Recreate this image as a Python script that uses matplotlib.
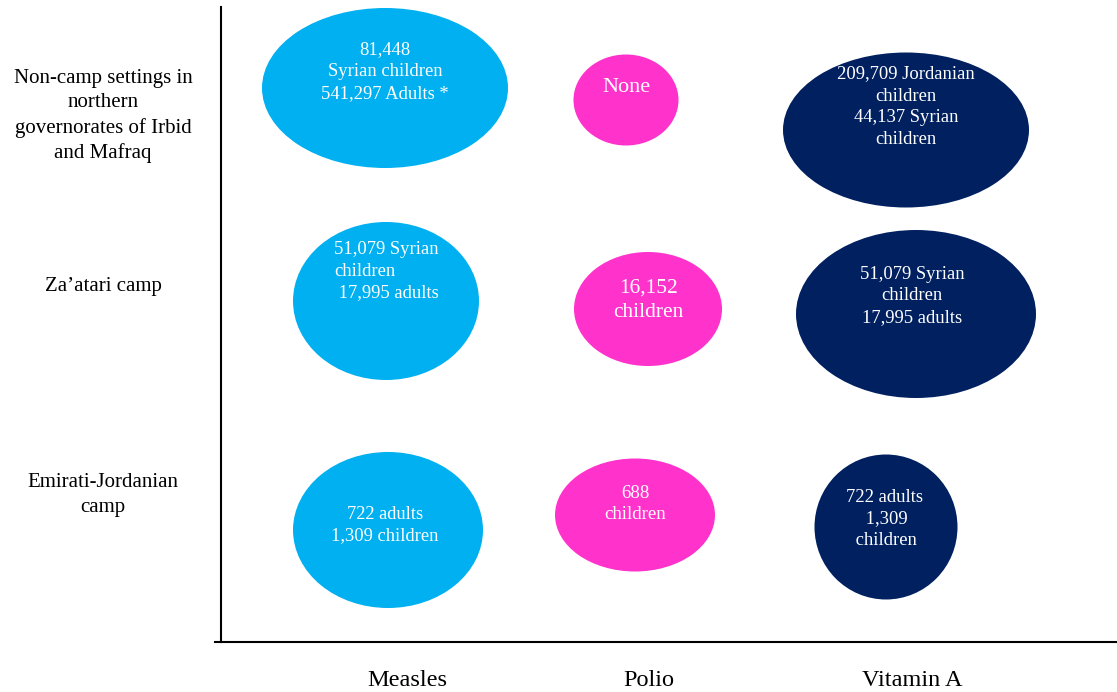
import matplotlib.pyplot as plt
from matplotlib.patches import Ellipse

plt.rcParams["font.family"] = ["Liberation Serif", "DejaVu Serif"]

# categories
vaccines = ["Measles", "Polio", "Vitamin A"]
settings = [
    "Non-camp settings in\nnorthern\ngovernorates of Irbid\nand Mafraq",
    "Za\u2019atari camp",
    "Emirati-Jordanian\ncamp",
]

# bubble texts, row by row (setting) and column by column (vaccine)
bubble_texts = [
    ["81,448\nSyrian children\n541,297 Adults *", "None",
     "209,709 Jordanian\nchildren\n44,137 Syrian\nchildren"],
    ["51,079 Syrian\nchildren\n 17,995 adults", "16,152\nchildren",
     "51,079 Syrian\nchildren\n17,995 adults"],
    ["722 adults\n1,309 children", "688\nchildren",
     "722 adults\n 1,309\n children"],
]

colors = ["#00B0F0", "#FF33CC", "#002060"]

# layout (axis units roughly equal to pixels)
centers = [
    [(164, 554), (405, 542), (685, 512)],
    [(165, 341), (427, 333), (695, 328)],
    [(167, 112), (414, 127), (665, 115)],
]
sizes = [
    [(246, 160), (105, 91), (246, 155)],
    [(186, 158), (148, 114), (240, 168)],
    [(190, 156), (160, 113), (143, 145)],
]
text_pos = [
    [(164, 570), (405, 555), (685, 535)],
    [(113, 371), (427, 342), (691, 346)],
    [(164, 117), (414, 138), (663, 123)],
]
text_size = [
    [13.4, 16, 13.4],
    [13.4, 15.4, 13.4],
    [13.3, 13.6, 13.4],
]
text_ha = [
    ["center", "center", "center"],
    ["left", "center", "center"],
    ["center", "center", "center"],
]
row_label_y = [526, 356, 147]
col_label_x = [186, 428, 691]

fig = plt.figure(figsize=(11.17, 6.92), dpi=100)
ax = fig.add_axes([215 / 1117, 50 / 692, 902 / 1117, 635 / 692])
ax.set_xlim(-6, 896)
ax.set_ylim(0, 635)

for r in range(len(settings)):
    for c in range(len(vaccines)):
        w, h = sizes[r][c]
        ax.add_patch(Ellipse(centers[r][c], w, h, facecolor=colors[c],
                             edgecolor="none"))
        ax.text(*text_pos[r][c], bubble_texts[r][c], color="white",
                fontsize=text_size[r][c], ha=text_ha[r][c], va="center",
                linespacing=1.38)

for label, y in zip(settings, row_label_y):
    ax.text(-118, y, label, ha="center", va="center", fontsize=15,
            linespacing=1.36)

ax.set_xticks(col_label_x)
ax.set_xticklabels(vaccines, fontsize=17.5)
ax.tick_params(axis="x", length=0, pad=20)
ax.set_yticks([])

for side in ["top", "right"]:
    ax.spines[side].set_visible(False)
ax.spines["left"].set_position(("data", 0))
ax.spines["left"].set_linewidth(1.5)
ax.spines["bottom"].set_linewidth(1.5)

fig.savefig("out.png", dpi=100)
